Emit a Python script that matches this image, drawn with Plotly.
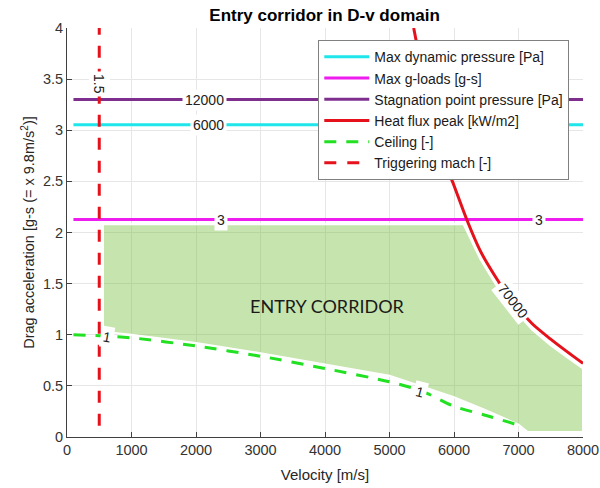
import plotly.graph_objects as go

# ---- data ----------------------------------------------------------------
# horizontal constraint levels (drag acceleration, g-s)
v_span = [100, 8000]
dyn_pressure_level = 3.055      # Max dynamic pressure, contour 6000 Pa
g_load_level = 2.126            # Max g-loads, contour 3 g-s
stag_pressure_level = 3.30      # Stagnation point pressure, contour 12000 Pa

# heat flux peak contour (70000 kW/m2)
heat_v = [5375, 5600, 5839, 5994, 6202, 6408, 6640, 6900, 7209, 7493, 7752, 8000]
heat_d = [4.00, 3.30, 2.72, 2.47, 2.12, 1.82, 1.57, 1.33, 1.11, 0.96, 0.835, 0.72]

# ceiling contour (level 1)
ceil_v = [100, 500, 1000, 2000, 3000, 4000, 5000, 5500, 6000, 6500, 7000, 7050]
ceil_d = [1.00, 0.99, 0.97, 0.89, 0.79, 0.67, 0.54, 0.45, 0.30, 0.21, 0.11, 0.08]

# triggering mach contour (1.5)
mach_v = [500, 500]
mach_d = [0.11, 4.0]

# entry corridor boundary
corr_v = [557, 557, 1000, 2000, 3000, 4000, 5000, 6000, 6500, 7000, 7137,
          8000, 8000, 7752, 7493, 7209, 6900, 6640, 6408, 6149, 557]
corr_d = [2.08, 1.03, 1.00, 0.92, 0.82, 0.71, 0.60, 0.39, 0.26, 0.12, 0.05,
          0.05, 0.67, 0.78, 0.90, 1.05, 1.27, 1.50, 1.74, 2.08, 2.08]

# contour labels: (text, velocity, drag, angle)
contour_labels = [
    ("12000", 2130, stag_pressure_level, 0),
    ("6000", 2200, dyn_pressure_level, 0),
    ("3", 2390, g_load_level, 0),
    ("3", 7320, g_load_level, 0),
    ("70000", 6920, 1.335, 52),
    ("1", 620, 0.975, 10),
    ("1", 5470, 0.44, 15),
    ("1.5", 500, 3.45, 90),
]

# ---- styling -------------------------------------------------------------
FONT = "Liberation Sans, Arial, sans-serif"
C_CYAN = "#1ee6ea"
C_MAGENTA = "#ee1cee"
C_PURPLE = "#7e2f8e"
C_RED = "#e5121b"
C_GREEN = "#22e022"

fig = go.Figure()

# corridor patch
fig.add_trace(go.Scatter(
    x=corr_v, y=corr_d, mode="lines", fill="toself",
    fillcolor="rgba(120,190,60,0.42)",
    line=dict(color="white", width=2, shape="linear"),
    showlegend=False, hoverinfo="skip"))

fig.add_trace(go.Scatter(
    x=v_span, y=[dyn_pressure_level] * 2, mode="lines",
    line=dict(color=C_CYAN, width=3), name="Max dynamic pressure [Pa]"))
fig.add_trace(go.Scatter(
    x=v_span, y=[g_load_level] * 2, mode="lines",
    line=dict(color=C_MAGENTA, width=3), name="Max g-loads [g-s]"))
fig.add_trace(go.Scatter(
    x=v_span, y=[stag_pressure_level] * 2, mode="lines",
    line=dict(color=C_PURPLE, width=3), name="Stagnation point pressure [Pa]"))
fig.add_trace(go.Scatter(
    x=heat_v, y=heat_d, mode="lines",
    line=dict(color=C_RED, width=3, shape="spline", smoothing=0.8),
    name="Heat flux peak [kW/m2]"))
fig.add_trace(go.Scatter(
    x=ceil_v, y=ceil_d, mode="lines",
    line=dict(color=C_GREEN, width=3, dash="12px,10px", shape="spline", smoothing=0.8),
    name="Ceiling [-]"))
fig.add_trace(go.Scatter(
    x=mach_v, y=mach_d, mode="lines",
    line=dict(color=C_RED, width=3, dash="12px,11px"), name="Triggering mach [-]"))

for text, v, d, ang in contour_labels:
    fig.add_annotation(
        x=v, y=d, text=text, showarrow=False, textangle=ang,
        font=dict(family=FONT, size=14, color="#222222"),
        bgcolor="white", borderpad=2, xanchor="center", yanchor="middle")

fig.add_annotation(
    x=4040, y=1.28, text="ENTRY CORRIDOR", showarrow=False,
    font=dict(family="Lato, Open Sans, sans-serif", size=18, color="#1a1a1a"),
    xanchor="center", yanchor="middle")

axis_common = dict(
    showgrid=True, gridcolor="#e6e6e6", gridwidth=1,
    showline=True, linecolor="#404040", linewidth=1,
    ticks="inside", ticklen=5, tickcolor="#404040",
    tickfont=dict(family=FONT, size=14.5, color="#333333"),
    zeroline=False, mirror=False, automargin=False)

fig.update_xaxes(range=[0, 8000], dtick=1000, tickformat="d",
                 title=dict(text="Velocity [m/s]", standoff=12,
                            font=dict(family=FONT, size=15, color="#262626")),
                 **axis_common)
fig.update_yaxes(range=[0, 4], dtick=0.5,
                 title=dict(text="Drag acceleration [g-s (= x 9.8m/s<sup>2</sup>)]",
                            standoff=4,
                            font=dict(family=FONT, size=14.5, color="#262626")),
                 **axis_common)

fig.update_layout(
    width=600, height=488,
    margin=dict(l=67, r=17, t=28, b=51),
    paper_bgcolor="white", plot_bgcolor="white",
    title=dict(text="<b>Entry corridor in D-v domain</b>",
               x=0.541, xanchor="center", y=0.969, yanchor="middle",
               font=dict(family=FONT, size=17, color="black")),
    legend=dict(x=0.487, y=0.970, xanchor="left", yanchor="top",
                bgcolor="white", bordercolor="#808080", borderwidth=1,
                font=dict(family=FONT, size=14, color="#1a1a1a"),
                itemwidth=45, tracegroupgap=0),
    showlegend=True)

fig.write_html("out.html")
